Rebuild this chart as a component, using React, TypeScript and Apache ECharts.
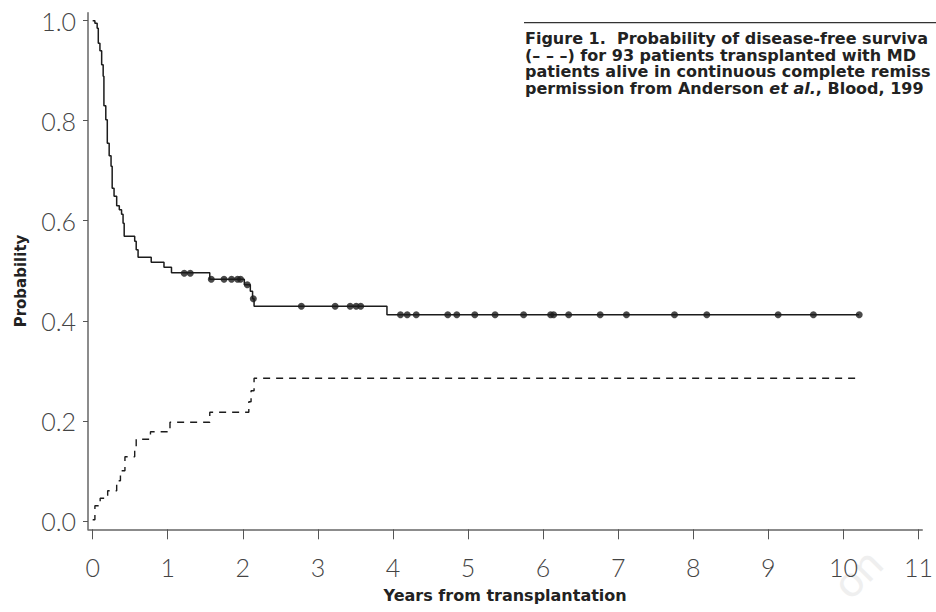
import React, { useEffect, useRef } from "react";
import * as echarts from "echarts";

// Kaplan-Meier disease-free survival: [years, probability after event]
const dfsSteps: [number, number][] = [
  [0, 1.0], [0.03, 0.995], [0.06, 0.985], [0.075, 0.955], [0.097, 0.94],
  [0.12, 0.912], [0.14, 0.889], [0.15, 0.83], [0.175, 0.802], [0.195, 0.755],
  [0.22, 0.73], [0.245, 0.709], [0.26, 0.665], [0.285, 0.649], [0.32, 0.63],
  [0.355, 0.622], [0.385, 0.613], [0.405, 0.595], [0.42, 0.569], [0.56, 0.559],
  [0.58, 0.542], [0.605, 0.527], [0.78, 0.517], [0.95, 0.507], [1.05, 0.496],
  [1.56, 0.483], [2.02, 0.472], [2.1, 0.459], [2.13, 0.444], [2.15, 0.429],
  [3.92, 0.412], [10.21, 0.412],
];

// Cumulative relapse (dashed)
const relapseSteps: [number, number][] = [
  [0, 0.002], [0.03, 0.03], [0.1, 0.045], [0.2, 0.06], [0.32, 0.08],
  [0.37, 0.1], [0.43, 0.128], [0.56, 0.142], [0.58, 0.163], [0.77, 0.178],
  [1.03, 0.197], [1.56, 0.217], [2.08, 0.238], [2.11, 0.26], [2.15, 0.285],
  [10.21, 0.285],
];

// Censored observations on the disease-free survival curve
const censoredTimes: number[] = [
  1.22, 1.3, 1.58, 1.75, 1.85, 1.93, 1.97, 2.06, 2.14,
  2.78, 3.23, 3.43, 3.51, 3.57,
  4.1, 4.19, 4.31, 4.73, 4.85, 5.09, 5.36, 5.74, 6.1, 6.14, 6.34, 6.76,
  7.11, 7.75, 8.18, 9.13, 9.6, 10.21,
];
const censoredProbs: number[] = [
  0.495, 0.495, 0.483, 0.483, 0.483, 0.483, 0.483, 0.472, 0.444,
  0.429, 0.429, 0.429, 0.429, 0.429,
  0.412, 0.412, 0.412, 0.412, 0.412, 0.412, 0.412, 0.412, 0.412, 0.412, 0.412, 0.412,
  0.412, 0.412, 0.412, 0.412, 0.412, 0.412,
];

const xTicks: number[] = [0, 1, 2, 3, 4, 5, 6, 7, 8, 9, 10, 11];
const yTicks: number[] = [0, 0.2, 0.4, 0.6, 0.8, 1.0];

const captionLines: string[] = [
  "Figure 1.  Probability of disease-free surviva",
  "(– – –) for 93 patients transplanted with MD",
  "patients alive in continuous complete remiss",
  "permission from Anderson {i|et al.}, Blood, 199",
];

const tickFont = { fontFamily: "Lato", fontWeight: 300 as any, fontSize: 25, color: "#444" };
const boldFont = "DejaVu Sans";

export default function App() {
  const ref = useRef<HTMLDivElement>(null);
  useEffect(() => {
    if (!ref.current) return;
    const chart = echarts.init(ref.current, undefined, { renderer: "svg" });
    const censored = censoredTimes.map((t, i) => [t, censoredProbs[i]]);
    const option: any = {
      animation: false,
      backgroundColor: "#ffffff",
      grid: { left: 88, right: 9, top: 12.7, bottom: 82.7, containLabel: false },
      xAxis: {
        type: "value",
        min: -0.062,
        max: 11.05,
        name: "Years from transplantation",
        nameLocation: "middle",
        nameGap: 58,
        nameTextStyle: { fontFamily: boldFont, fontWeight: "bold", fontSize: 16, color: "#222" },
        axisLine: { onZero: false, lineStyle: { color: "#666", width: 1.5 } },
        axisTick: { show: true, length: 10, customValues: xTicks, lineStyle: { color: "#555", width: 1 } },
        axisLabel: { customValues: xTicks, margin: 25, ...tickFont, formatter: (v: number) => String(Math.round(v)) },
        splitLine: { show: false },
      },
      yAxis: {
        type: "value",
        min: -0.017,
        max: 1.016,
        name: "Probability",
        nameLocation: "middle",
        nameGap: 60,
        nameTextStyle: { fontFamily: boldFont, fontWeight: "bold", fontSize: 15, color: "#222", padding: [0, 0, 0, -20] },
        axisLine: { onZero: false, lineStyle: { color: "#666", width: 1.5 } },
        axisTick: { show: true, length: 5, customValues: yTicks, lineStyle: { color: "#555", width: 1 } },
        axisLabel: { customValues: yTicks, margin: 12, ...tickFont, formatter: (v: number) => v.toFixed(1) },
        splitLine: { show: false },
      },
      series: [
        {
          name: "Disease-free survival",
          type: "line",
          step: "end",
          data: dfsSteps,
          showSymbol: false,
          symbol: "none",
          lineStyle: { color: "#1c1c1c", width: 1.5 },
          z: 3,
        },
        {
          name: "Relapse",
          type: "line",
          step: "end",
          data: relapseSteps,
          showSymbol: false,
          symbol: "none",
          lineStyle: { color: "#1c1c1c", width: 1.4, type: [7, 6] },
          z: 3,
        },
        {
          name: "Censored",
          type: "scatter",
          data: censored,
          symbol: "circle",
          symbolSize: 7,
          itemStyle: { color: "#1c1c1c" },
          z: 4,
        },
      ],
      graphic: [
        {
          type: "text",
          x: 856,
          y: 572,
          rotation: Math.PI / 4,
          style: {
            text: "on",
            fontSize: 44,
            fontFamily: "Lato",
            fill: "#efefef",
            align: "center",
            verticalAlign: "middle",
          },
          z: -10,
        },
        {
          type: "line",
          shape: { x1: 524, y1: 22.7, x2: 936, y2: 22.7 },
          style: { stroke: "#333", lineWidth: 1.3 },
        },
        {
          type: "text",
          x: 525,
          y: 30.7,
          style: {
            text: captionLines.join("\n"),
            fontFamily: boldFont,
            fontWeight: "bold",
            fontSize: 16,
            lineHeight: 16.5,
            fill: "#222",
            verticalAlign: "top",
            rich: {
              i: { fontFamily: boldFont, fontWeight: "bold", fontStyle: "italic", fontSize: 16, lineHeight: 16.5, fill: "#222" },
            },
          },
        },
      ],
    };
    chart.setOption(option);
    return () => chart.dispose();
  }, []);
  return (
    <div
      ref={ref}
      style={{ position: "fixed", left: 0, top: 0, width: 936, height: 612, background: "#fff" }}
    />
  );
}
